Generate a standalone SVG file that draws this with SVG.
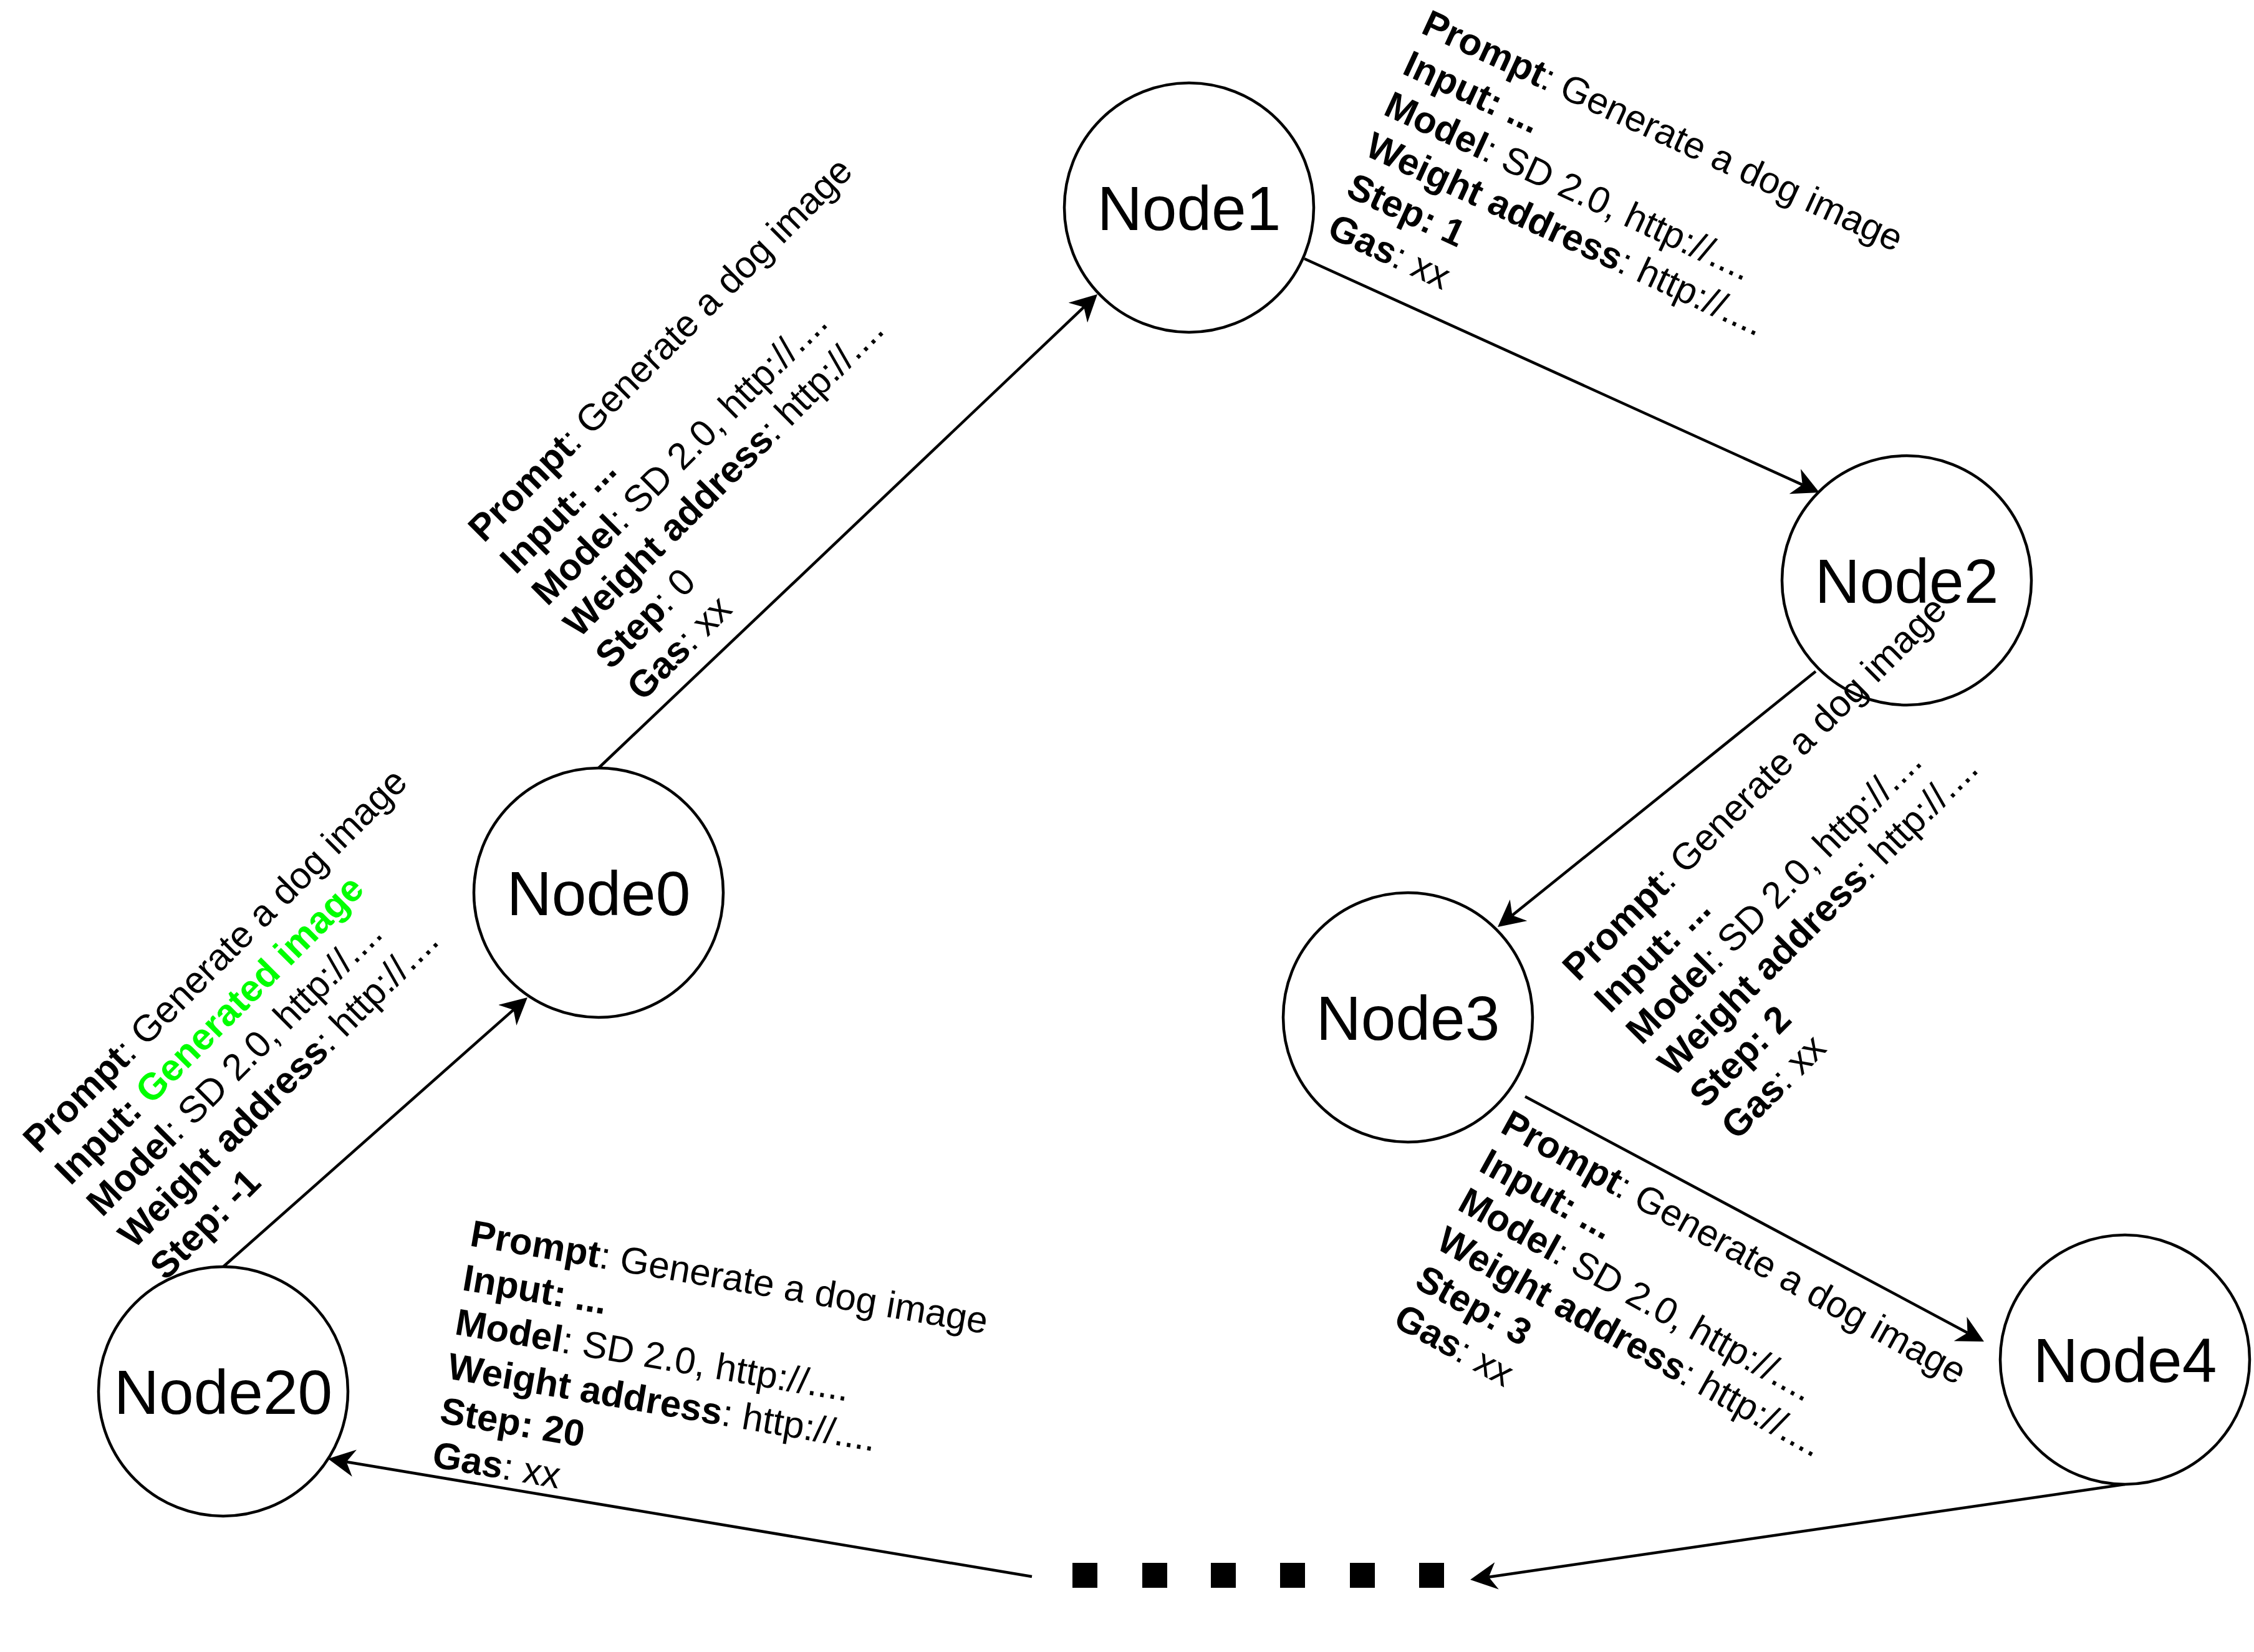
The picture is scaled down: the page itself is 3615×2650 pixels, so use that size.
<svg xmlns="http://www.w3.org/2000/svg" width="3615" height="2650" viewBox="0 0 3615 2650">
<style>
.node circle{fill:#fff;stroke:#000;stroke-width:4.5}
.node text{font-family:"Liberation Sans",Arial,sans-serif;font-size:100px;fill:#000;text-anchor:middle}
.edge{fill:none;stroke:#000;stroke-width:4.5;marker-end:url(#arr)}
.lbl{font-family:"Liberation Sans",Arial,sans-serif;font-size:60px;fill:#000}
.b{font-weight:bold}
.g{fill:#00ff00;font-weight:bold}
</style>
<defs>
<marker id="arr" markerUnits="userSpaceOnUse" viewBox="0 0 43 44" markerWidth="43" markerHeight="44" refX="13" refY="22" orient="auto">
<path d="M0,0 L43,22 L0,44 L13,22 Z" fill="#000"/>
</marker>
</defs>
<rect width="3615" height="2650" fill="#fff"/>
<g id="connectors">
<line class="edge" x1="358" y1="2032" x2="823.5" y2="1619.9"/>
<line class="edge" x1="960" y1="1232" x2="1738.3" y2="492.7"/>
<line class="edge" x1="2092" y1="415" x2="2890.7" y2="777.6"/>
<line class="edge" x1="2912" y1="1077" x2="2425.4" y2="1468.2"/>
<line class="edge" x1="2446" y1="1759" x2="3155.5" y2="2137.9"/>
<line class="edge" x1="3408" y1="2381" x2="2387.7" y2="2529.7"/>
<line class="edge" x1="1655" y1="2529" x2="555.6" y2="2345"/>
</g>
<g id="node0" class="node"><circle cx="960" cy="1432" r="200"/><text x="960" y="1468">Node0</text></g>
<g id="node1" class="node"><circle cx="1907" cy="333" r="200"/><text x="1907" y="369">Node1</text></g>
<g id="node2" class="node"><circle cx="3058" cy="931" r="200"/><text x="3058" y="967">Node2</text></g>
<g id="node3" class="node"><circle cx="2258" cy="1632" r="200"/><text x="2258" y="1668">Node3</text></g>
<g id="node4" class="node"><circle cx="3408" cy="2181" r="200"/><text x="3408" y="2217">Node4</text></g>
<g id="node20" class="node"><circle cx="358" cy="2232" r="200"/><text x="358" y="2268">Node20</text></g>
<g id="ellipsis" fill="#000">
<rect x="1720" y="2507" width="40" height="40"/>
<rect x="1832" y="2507" width="40" height="40"/>
<rect x="1942" y="2507" width="40" height="40"/>
<rect x="2053" y="2507" width="40" height="40"/>
<rect x="2165" y="2507" width="40" height="40"/>
<rect x="2276" y="2507" width="40" height="40"/>
</g>
<g id="edge-labels">
<g transform="translate(62,1852) rotate(-45)">
<text class="lbl" x="0" y="0"><tspan class="b">Prompt</tspan>: Generate a dog image<tspan x="0" dy="72" class="b">Input: </tspan><tspan class="g">Generated image</tspan><tspan x="0" dy="72" class="b">Model</tspan>: SD 2.0, http://....<tspan x="0" dy="72" class="b">Weight address</tspan>: http://....<tspan x="0" dy="72" class="b">Step: -1</tspan></text>
</g>
<g transform="translate(776,872) rotate(-45)">
<text class="lbl" x="0" y="0"><tspan class="b">Prompt</tspan>: Generate a dog image<tspan x="0" dy="72" class="b">Input: ...</tspan><tspan x="0" dy="72" class="b">Model</tspan>: SD 2.0, http://....<tspan x="0" dy="72" class="b">Weight address</tspan>: http://....<tspan x="0" dy="72" class="b">Step</tspan>: 0<tspan x="0" dy="72" class="b">Gas</tspan>: xx</text>
</g>
<g transform="translate(2277,52) rotate(24.8)">
<text class="lbl" x="0" y="0"><tspan class="b">Prompt</tspan>: Generate a dog image<tspan x="0" dy="72" class="b">Input: ...</tspan><tspan x="0" dy="72" class="b">Model</tspan>: SD 2.0, http://....<tspan x="0" dy="72" class="b">Weight address</tspan>: http://....<tspan x="0" dy="72" class="b">Step: 1</tspan><tspan x="0" dy="72" class="b">Gas</tspan>: xx</text>
</g>
<g transform="translate(2531,1576) rotate(-45)">
<text class="lbl" x="0" y="0"><tspan class="b">Prompt</tspan>: Generate a dog image<tspan x="0" dy="72" class="b">Input: ...</tspan><tspan x="0" dy="72" class="b">Model</tspan>: SD 2.0, http://....<tspan x="0" dy="72" class="b">Weight address</tspan>: http://....<tspan x="0" dy="72" class="b">Step: 2</tspan><tspan x="0" dy="72" class="b">Gas</tspan>: xx</text>
</g>
<g transform="translate(2404,1815) rotate(29)">
<text class="lbl" x="0" y="0"><tspan class="b">Prompt</tspan>: Generate a dog image<tspan x="0" dy="71" class="b">Input: ...</tspan><tspan x="0" dy="71" class="b">Model</tspan>: SD 2.0, http://....<tspan x="0" dy="71" class="b">Weight address</tspan>: http://....<tspan x="0" dy="71" class="b">Step: 3</tspan><tspan x="0" dy="71" class="b">Gas</tspan>: xx</text>
</g>
<g transform="translate(752,1998) rotate(9.7)">
<text class="lbl" x="0" y="0"><tspan class="b">Prompt</tspan>: Generate a dog image<tspan x="0" dy="72" class="b">Input: ...</tspan><tspan x="0" dy="72" class="b">Model</tspan>: SD 2.0, http://....<tspan x="0" dy="72" class="b">Weight address</tspan>: http://....<tspan x="0" dy="72" class="b">Step: 20</tspan><tspan x="0" dy="72" class="b">Gas</tspan>: xx</text>
</g>
</g>
</svg>
